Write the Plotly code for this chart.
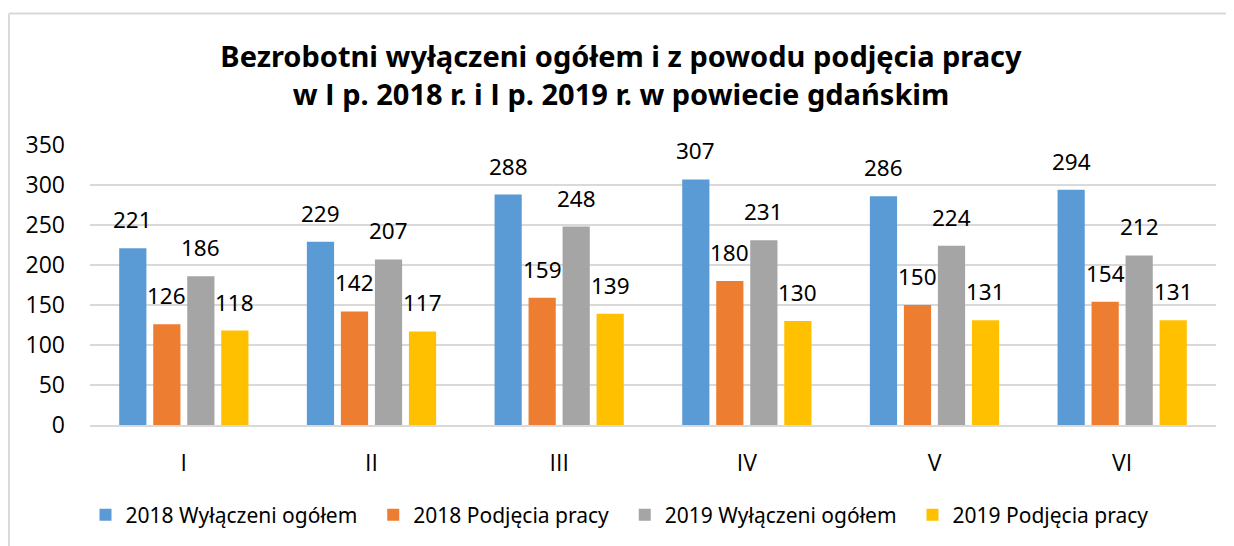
import plotly.graph_objects as go

categories = ["I", "II", "III", "IV", "V", "VI"]
wyl_2018 = [221, 229, 288, 307, 286, 294]
podj_2018 = [126, 142, 159, 180, 150, 154]
wyl_2019 = [186, 207, 248, 231, 224, 212]
podj_2019 = [118, 117, 139, 130, 131, 131]

series_names = ["2018 Wyłączeni ogółem", "2018 Podjęcia pracy",
                "2019 Wyłączeni ogółem", "2019 Podjęcia pracy"]
series_values = [wyl_2018, podj_2018, wyl_2019, podj_2019]
colors = ["#5B9BD5", "#ED7D31", "#A5A5A5", "#FFC000"]

FONT = "Noto Sans, Open Sans, sans-serif"
AXFONT = "Open Sans, Noto Sans, sans-serif"
BARGAP = 0.275
BARGROUPGAP = 0.2

fig = go.Figure()
for name, vals, col in zip(series_names, series_values, colors):
    fig.add_trace(go.Bar(x=categories, y=vals, name=name + "\u00a0\u00a0",
                         marker_color=col, marker_line_width=0))

# data labels above bars (centred over each bar of the group)
n = len(series_values)
slot = (1 - BARGAP) / n
for j, vals in enumerate(series_values):
    for i, v in enumerate(vals):
        fig.add_annotation(x=i + (j - (n - 1) / 2) * slot, y=v, xref="x", yref="y",
                           text=str(v), showarrow=False, yanchor="bottom",
                           yshift=11, font=dict(family=FONT, size=22.5, color="#000000"))

I_ = "<span style='font-family:Open Sans'>I</span>"
title_text = ("<b>Bezrobotni wyłączeni ogółem i z powodu podjęcia pracy<br>"
              f"w {I_} p. 2018 r. i {I_} p. 2019 r. w powiecie gdańskim</b>")

fig.update_layout(
    width=1226, height=538,
    barmode="group", bargap=BARGAP, bargroupgap=BARGROUPGAP,
    paper_bgcolor="white", plot_bgcolor="white",
    margin=dict(l=82, r=18, t=137, b=120),
    title=dict(text=title_text,
               x=0.5, xanchor="center", y=0.89, yanchor="middle",
               font=dict(family=FONT, size=29, color="#000000")),
    font=dict(family=FONT, color="#000000"),
    legend=dict(orientation="h", x=-0.004, xanchor="left", y=-0.317, yanchor="middle",
                font=dict(family=FONT, size=21, color="#000000")),
    xaxis=dict(showgrid=False, showline=True, linecolor="#D9D9D9", linewidth=2,
               ticks="", tickfont=dict(family=AXFONT, size=23), ticklabelstandoff=16),
    yaxis=dict(range=[0, 350], dtick=50, showgrid=True, gridcolor="#D9D9D9",
               gridwidth=2, zeroline=False, showline=False, ticks="",
               tickfont=dict(family=AXFONT, size=23), ticklabelstandoff=24),
    shapes=[dict(type="line", xref="paper", yref="paper", x0=-0.072, x1=1.1,
                 y0=1.4698, y1=1.4698, line=dict(color="#D9D9D9", width=2)),
            dict(type="line", xref="paper", yref="paper", x0=-0.072, x1=-0.072,
                 y0=-0.5, y1=1.4698, line=dict(color="#D9D9D9", width=2))],
)

fig.write_html("out.html")
